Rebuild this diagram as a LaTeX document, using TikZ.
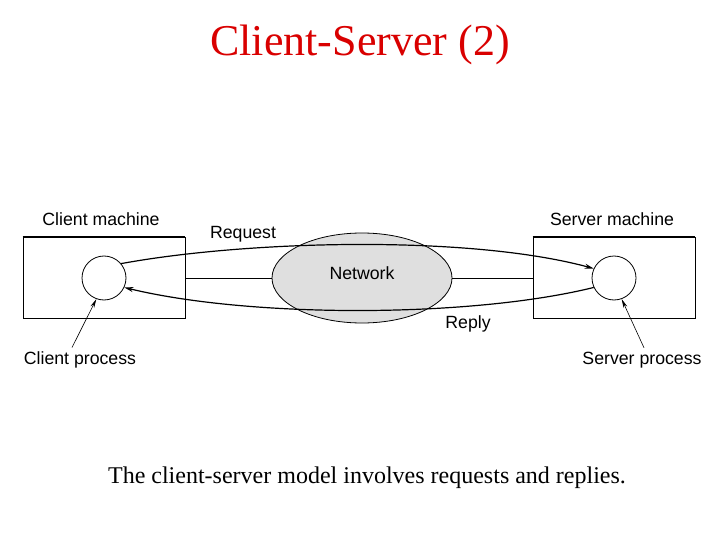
\documentclass[tikz,border=0pt]{standalone}
\usepackage{fontspec}
\setmainfont{Liberation Serif}
\newfontfamily\sansf{Liberation Sans}
\usetikzlibrary{arrows.meta,shapes.geometric}
\begin{document}
\begin{tikzpicture}[x=1pt,y=-1pt,
  lbl/.style={font=\sansf\fontsize{17.7}{20}\selectfont,inner sep=0},
  mach/.style={draw,line width=0.8pt,minimum width=162pt,minimum height=81pt,inner sep=0},
  proc/.style={draw,circle,minimum size=44pt,inner sep=0,line width=0.8pt},
  arr/.style={-{Stealth[length=9pt,width=5pt]},line width=1.2pt},
  thin/.style={-{Stealth[length=9pt,width=4pt]},line width=0.6pt}]
\useasboundingbox (0,0) rectangle (720,540);
\node[font=\fontsize{44}{48}\selectfont,text=red!85!black] (title) at (360,45) {Client-Server (2)};
\node[mach] (cm) at (104,277.5) {};
\node[mach] (sm) at (614,277.5) {};
\draw[line width=2pt] (cm.north west) -- (cm.north east);
\draw[line width=2pt] (sm.north west) -- (sm.north east);
\node[draw,ellipse,fill=gray!25,minimum width=180pt,minimum height=90pt,line width=0.8pt,inner sep=0] (net) at (362,278) {};
\node[lbl] (netl) at (362,273) {Network};
\node[proc] (cp) at (104,278) {};
\node[proc] (sp) at (614,278) {};
\draw (cm.east |- net.west) -- (net.west);
\draw (net.east) -- (sm.west |- net.east);
\draw[arr] (cp.40) .. controls (250,240) and (470,235) .. (sp.155);
\draw[arr] (sp.205) .. controls (470,318) and (250,318) .. (cp.-25);
\node[lbl] (cml) at (101,219) {Client machine};
\node[lbl] (sml) at (612,219) {Server machine};
\node[lbl] (req) at (243,234) {Request};
\node[lbl] (rep) at (468,324) {Reply};
\node[lbl] (cpl) at (80,360) {Client process};
\node[lbl] (spl) at (642,360) {Server process};
\draw[thin] (cpl.north) ++(-8,-4) coordinate (a1) (a1) -- (cp.-110);
\draw[thin] (spl.north) ++(2,-4) coordinate (a2) (a2) -- (sp.-70);
\node[font=\fontsize{24}{28}\selectfont] (cap) at (367,478) {The client-server model involves requests and replies.};
\end{tikzpicture}
\end{document}
